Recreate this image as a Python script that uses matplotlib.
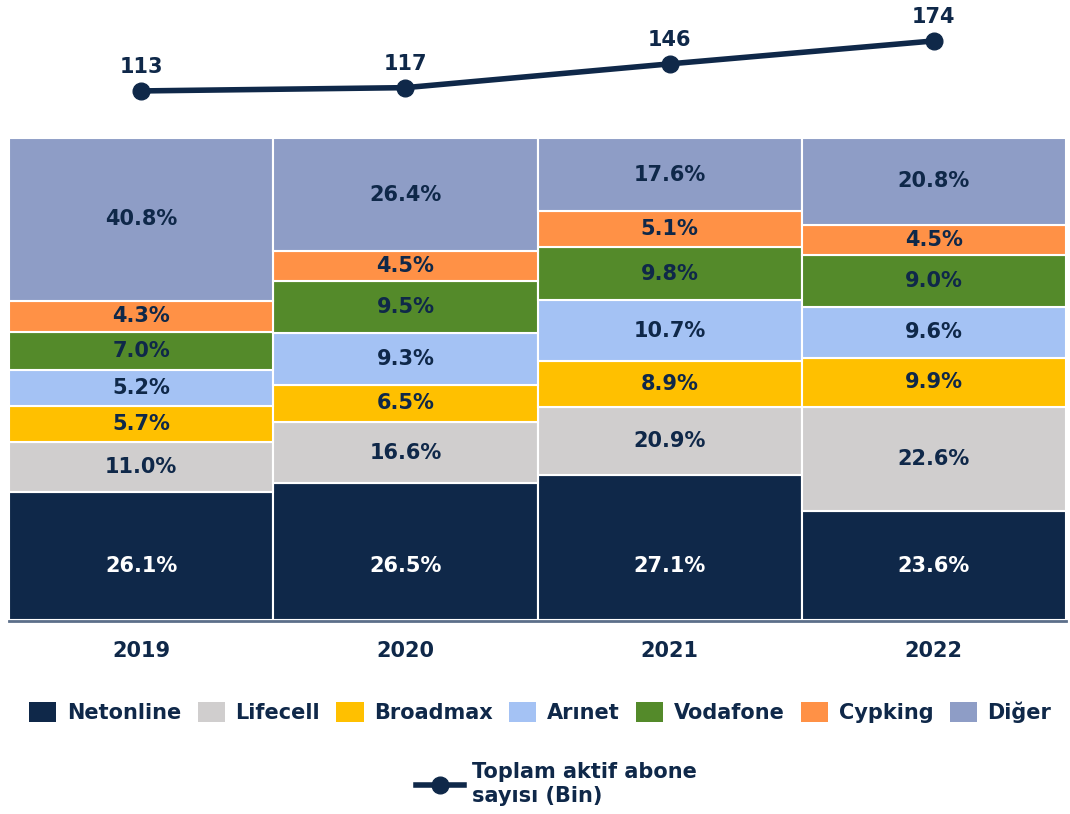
import numpy as np
import matplotlib.pyplot as plt
from matplotlib.patches import Patch
from matplotlib.lines import Line2D

plt.rcParams['font.family'] = ['Verdana', 'DejaVu Sans']
plt.rcParams['font.weight'] = 'bold'

years = ['2019', '2020', '2021', '2022']
companies = ['Netonline', 'Lifecell', 'Broadmax', 'Arınet', 'Vodafone', 'Cypking', 'Diğer']

# labels printed on the segments
netonline = [26.1, 26.5, 27.1, 23.6]
lifecell = [11.0, 16.6, 20.9, 22.6]
broadmax = [5.7, 6.5, 8.9, 9.9]
arinet = [5.2, 9.3, 10.7, 9.6]
vodafone = [7.0, 9.5, 9.8, 9.0]
cypking = [4.3, 4.5, 5.1, 4.5]
diger = [40.8, 26.4, 17.6, 20.8]

# segment heights as drawn in the original (not exactly proportional to the labels)
h_netonline = [26.6, 28.4, 30.1, 22.6]
h_lifecell = [10.3, 12.7, 14.1, 21.6]
h_broadmax = [7.6, 7.7, 9.5, 10.2]
h_arinet = [7.5, 10.7, 12.7, 10.6]
h_vodafone = [7.8, 10.8, 10.9, 10.8]
h_cypking = [6.5, 6.2, 7.5, 6.2]
h_diger = [33.8, 23.5, 15.2, 18.0]

total_subs = [113, 117, 146, 174]

colors = ['#0F2849', '#D0CECE', '#FFC000', '#A4C2F4', '#548A2A', '#FF9146', '#8E9DC6']
navy = '#0F2849'

labels = np.array([netonline, lifecell, broadmax, arinet, vodafone, cypking, diger])
heights = np.array([h_netonline, h_lifecell, h_broadmax, h_arinet, h_vodafone, h_cypking, h_diger])
heights = heights / heights.sum(axis=0) * 100

W, H = 1070, 814
fig = plt.figure(figsize=(W / 100, H / 100), dpi=100)

# stacked bars
ax = fig.add_axes([9 / W, (H - 620) / H, (1066 - 9) / W, (620 - 138) / H])
x = np.arange(len(years))
bottom = np.zeros(len(years))
for i, name in enumerate(companies):
    ax.bar(x, heights[i], bottom=bottom, width=1.0, color=colors[i],
           edgecolor='white', linewidth=1.5)
    for j in range(len(years)):
        tc = 'white' if i == 0 else navy
        ypos = bottom[j] + heights[i][j] / 2
        if i == 0:
            ypos = 11.2  # bottom labels sit on one line in the original
        ax.text(x[j], ypos, f'{labels[i][j]:.1f}%',
                ha='center', va='center', fontsize=15, color=tc, fontweight='bold')
    bottom += heights[i]
ax.set_xlim(-0.5, 3.5)
ax.set_ylim(0, 100)
ax.set_yticks([])
ax.set_xticks(x)
ax.set_xticklabels(years)
ax.tick_params(axis='x', length=0, pad=14, labelsize=15, labelcolor=navy)
for s in ['top', 'right', 'left']:
    ax.spines[s].set_visible(False)
ax.spines['bottom'].set_color('#5C6F8A')
ax.spines['bottom'].set_linewidth(2)
ax.spines['bottom'].set_position(('outward', 1))

# line of total subscribers
ax2 = fig.add_axes([9 / W, (H - 138) / H, (1066 - 9) / W, 138 / H])
ax2.plot(x, total_subs, color=navy, linewidth=4, marker='o', markersize=12)
for j, v in enumerate(total_subs):
    ax2.text(x[j], v + 17, str(v), ha='center', va='bottom', fontsize=15,
             color=navy, fontweight='bold')
ax2.set_xlim(-0.5, 3.5)
ax2.set_ylim(55.6, 223.9)
ax2.axis('off')

# legends
handles = [Patch(facecolor=c, edgecolor='none') for c in colors]
leg = fig.legend(handles, companies, loc='center', bbox_to_anchor=(0.505, (H - 712) / H),
                 ncol=7, frameon=False, fontsize=15, handlelength=1.3, handleheight=1.1,
                 columnspacing=0.8, handletextpad=0.5)
for t in leg.get_texts():
    t.set_color(navy)

lh = [Line2D([0], [0], color=navy, linewidth=4, marker='o', markersize=12)]
leg2 = fig.legend(lh, ['Toplam aktif abone\nsayısı (Bin)'], loc='center',
                  bbox_to_anchor=(0.52, (H - 784) / H), frameon=False, fontsize=15,
                  handlelength=2.3, handletextpad=0.4)
for t in leg2.get_texts():
    t.set_color(navy)

fig.savefig('out.png', dpi=100)
